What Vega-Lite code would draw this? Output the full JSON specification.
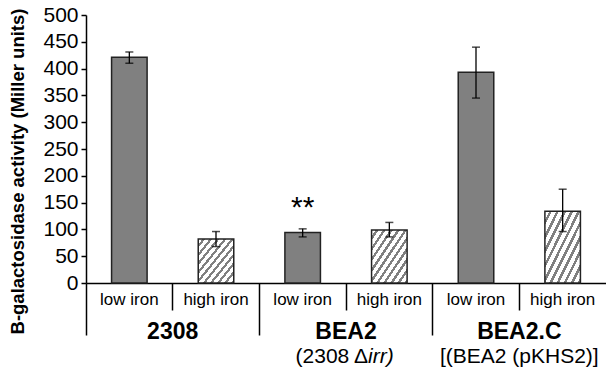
{
  "$schema": "https://vega.github.io/schema/vega-lite/v6.json",
  "autosize": {"type": "none"},
  "padding": {"left": 86, "top": 15, "right": 0, "bottom": 94},
  "width": 520,
  "height": 268,
  "background": "#ffffff",
  "config": {
    "font": "Liberation Sans",
    "view": {"stroke": null},
    "axisY": {"tickCount": 10, "labelOverlap": false, "grid": false}
  },
  "data": {
    "values": [
      {"id": "2308 low iron", "group": "2308", "cond": "low iron", "value": 421, "lo": 410, "hi": 431, "sig": ""},
      {"id": "2308 high iron", "group": "2308", "cond": "high iron", "value": 82, "lo": 68, "hi": 96, "sig": ""},
      {"id": "BEA2 low iron", "group": "BEA2", "cond": "low iron", "value": 94, "lo": 86, "hi": 101, "sig": "**"},
      {"id": "BEA2 high iron", "group": "BEA2", "cond": "high iron", "value": 99, "lo": 86, "hi": 113, "sig": ""},
      {"id": "BEA2.C low iron", "group": "BEA2.C", "cond": "low iron", "value": 393, "lo": 345, "hi": 440, "sig": ""},
      {"id": "BEA2.C high iron", "group": "BEA2.C", "cond": "high iron", "value": 134, "lo": 96, "hi": 175, "sig": ""}
    ]
  },
  "layer": [
    {
      "encoding": {
        "x": {
          "field": "id",
          "type": "nominal",
          "scale": {"type": "band", "domain": ["2308 low iron", "2308 high iron", "BEA2 low iron", "BEA2 high iron", "BEA2.C low iron", "BEA2.C high iron"], "paddingInner": 0, "paddingOuter": 0},
          "axis": {
            "title": null,
            "orient": "bottom",
            "bandPosition": 0,
            "labelAngle": 0,
            "labelOverlap": false,
            "labelExpr": "slice(datum.value, indexof(datum.value, ' ') + 1)",
            "labelFontSize": 17,
            "labelColor": "#000",
            "labelPadding": {"condition": {"test": "indexof(datum.value, 'low') >= 0", "value": -44}, "value": -19},
            "domainColor": "#000",
            "domainWidth": 1.5,
            "tickColor": "#000",
            "tickWidth": 1.5,
            "tickSize": {"condition": {"test": "indexof(datum.value, 'low') >= 0", "value": 52}, "value": 27}
          }
        }
      },
      "layer": [
        {
          "transform": [{"filter": "datum.cond == 'low iron'"}],
          "mark": {"type": "bar", "width": {"band": 0.41}, "fill": "#808080", "stroke": "#222", "strokeWidth": 1.5},
          "encoding": {
            "y": {
              "field": "value",
              "type": "quantitative",
              "scale": {"domain": [0, 500], "nice": false},
              "axis": {
                "title": "B-galactosidase activity (Miller units)",
                "titleFontSize": 18.5,
                "titleFontWeight": "bold",
                "titleColor": "#000",
                "titleX": -69,
                "titleY": 156,
                "titleAlign": "center",
                "titleBaseline": "middle",
                "titleAngle": -90,
                "tickCount": 10,
                "labelOverlap": false,
                "grid": false,
                "domainColor": "#000",
                "domainWidth": 1.5,
                "tickColor": "#000",
                "tickWidth": 1.5,
                "tickSize": 5,
                "labelFontSize": 21,
                "labelColor": "#000",
                "labelPadding": 3
              }
            }
          }
        },
        {
          "transform": [{"filter": "datum.cond == 'high iron'"}],
          "mark": {
            "type": "bar",
            "width": {"band": 0.41},
            "stroke": "#222",
            "strokeWidth": 1.5,
            "fill": {
              "gradient": "linear",
              "x1": 0, "y1": 0, "x2": 1, "y2": 1,
              "stops": [
                {"offset": 0, "color": "#ffffff"}, {"offset": 0.06, "color": "#ffffff"}, {"offset": 0.06, "color": "#808080"}, {"offset": 0.1, "color": "#808080"},
                {"offset": 0.1, "color": "#ffffff"}, {"offset": 0.16, "color": "#ffffff"}, {"offset": 0.16, "color": "#808080"}, {"offset": 0.2, "color": "#808080"},
                {"offset": 0.2, "color": "#ffffff"}, {"offset": 0.26, "color": "#ffffff"}, {"offset": 0.26, "color": "#808080"}, {"offset": 0.3, "color": "#808080"},
                {"offset": 0.3, "color": "#ffffff"}, {"offset": 0.36, "color": "#ffffff"}, {"offset": 0.36, "color": "#808080"}, {"offset": 0.4, "color": "#808080"},
                {"offset": 0.4, "color": "#ffffff"}, {"offset": 0.46, "color": "#ffffff"}, {"offset": 0.46, "color": "#808080"}, {"offset": 0.5, "color": "#808080"},
                {"offset": 0.5, "color": "#ffffff"}, {"offset": 0.56, "color": "#ffffff"}, {"offset": 0.56, "color": "#808080"}, {"offset": 0.6, "color": "#808080"},
                {"offset": 0.6, "color": "#ffffff"}, {"offset": 0.66, "color": "#ffffff"}, {"offset": 0.66, "color": "#808080"}, {"offset": 0.7, "color": "#808080"},
                {"offset": 0.7, "color": "#ffffff"}, {"offset": 0.76, "color": "#ffffff"}, {"offset": 0.76, "color": "#808080"}, {"offset": 0.8, "color": "#808080"},
                {"offset": 0.8, "color": "#ffffff"}, {"offset": 0.86, "color": "#ffffff"}, {"offset": 0.86, "color": "#808080"}, {"offset": 0.9, "color": "#808080"},
                {"offset": 0.9, "color": "#ffffff"}, {"offset": 0.96, "color": "#ffffff"}, {"offset": 0.96, "color": "#808080"}, {"offset": 1, "color": "#808080"}
              ]
            }
          },
          "encoding": {"y": {"field": "value", "type": "quantitative"}}
        },
        {
          "mark": {"type": "rule", "color": "#000", "strokeWidth": 1.3},
          "encoding": {"y": {"field": "lo", "type": "quantitative"}, "y2": {"field": "hi"}}
        },
        {
          "mark": {"type": "tick", "color": "#000", "size": 8, "thickness": 1.5, "orient": "horizontal"},
          "encoding": {"y": {"field": "lo", "type": "quantitative"}}
        },
        {
          "mark": {"type": "tick", "color": "#000", "size": 8, "thickness": 1.5, "orient": "horizontal"},
          "encoding": {"y": {"field": "hi", "type": "quantitative"}}
        },
        {
          "transform": [{"filter": "datum.sig != ''"}],
          "mark": {"type": "text", "fontSize": 30, "color": "#000", "baseline": "middle", "align": "center", "dy": -21},
          "encoding": {"y": {"field": "hi", "type": "quantitative"}, "text": {"field": "sig"}}
        }
      ]
    },
    {
      "mark": {"type": "tick", "opacity": 0},
      "encoding": {
        "x": {
          "field": "group",
          "type": "nominal",
          "scale": {"type": "band", "domain": ["2308", "BEA2", "BEA2.C"], "paddingInner": 0, "paddingOuter": 0},
          "axis": {"orient": "bottom", "title": null, "domain": false, "ticks": false, "labelAngle": 0, "labelOverlap": false, "labelPadding": 37, "labelFontSize": 23, "labelFontWeight": "bold", "labelColor": "#000"}
        }
      }
    },
    {
      "mark": {"type": "tick", "opacity": 0},
      "encoding": {
        "x": {
          "field": "group",
          "type": "nominal",
          "scale": {"type": "band", "domain": ["2308", "BEA2", "BEA2.C"], "paddingInner": 0, "paddingOuter": 0},
          "axis": {
            "orient": "bottom", "title": null, "domain": false, "ticks": false, "labelAngle": 0, "labelOverlap": false,
            "labelPadding": 62, "labelFontSize": 21, "labelColor": "#000",
            "labelExpr": "datum.value == 'BEA2' ? '(2308 Δ' : datum.value == 'BEA2.C' ? '[(BEA2 (pKHS2)]' : ''",
            "labelAlign": {"condition": {"test": "datum.value == 'BEA2'", "value": "right"}, "value": "center"},
            "labelOffset": {"condition": {"test": "datum.value == 'BEA2'", "value": 22}, "value": 0}
          }
        }
      }
    },
    {
      "mark": {"type": "tick", "opacity": 0},
      "encoding": {
        "x": {
          "field": "group",
          "type": "nominal",
          "scale": {"type": "band", "domain": ["2308", "BEA2", "BEA2.C"], "paddingInner": 0, "paddingOuter": 0},
          "axis": {
            "orient": "bottom", "title": null, "domain": false, "ticks": false, "labelAngle": 0, "labelOverlap": false,
            "labelPadding": 62, "labelFontSize": 21, "labelColor": "#000", "labelFontStyle": "italic",
            "labelExpr": "datum.value == 'BEA2' ? 'irr)' : ''",
            "labelAlign": "left",
            "labelOffset": 22
          }
        }
      }
    }
  ],
  "resolve": {"scale": {"x": "independent"}, "axis": {"x": "independent"}}
}
